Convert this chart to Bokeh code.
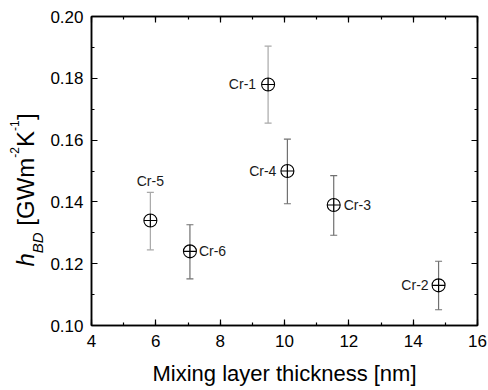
import math
from bokeh.plotting import figure
from bokeh.layouts import row
from bokeh.models import (Range1d, LinearAxis, SingleIntervalTicker, PrintfTickFormatter,
                          CustomJSTickFormatter, Label, ColumnDataSource)
from bokeh.embed import file_html
from bokeh.resources import INLINE

# ---- data ----
names = ["Cr-1", "Cr-2", "Cr-3", "Cr-4", "Cr-5", "Cr-6"]
thickness = [9.49, 14.79, 11.53, 10.09, 5.83, 7.06]
h_bd = [0.178, 0.113, 0.139, 0.150, 0.134, 0.124]
err_upper = [0.1904, 0.1208, 0.1485, 0.1603, 0.1431, 0.1326]
err_lower = [0.1655, 0.1051, 0.1292, 0.1394, 0.1245, 0.1151]

# ---- styling (not data) ----
bar_colors = ["#a8a8a8", "#707070", "#707070", "#707070", "#a8a8a8", "#707070"]
label_style = {
    "Cr-1": dict(align="right", baseline="middle", dx=-12, dy=0),
    "Cr-2": dict(align="right", baseline="middle", dx=-10, dy=0),
    "Cr-3": dict(align="left", baseline="middle", dx=10, dy=0),
    "Cr-4": dict(align="right", baseline="middle", dx=-11, dy=0),
    "Cr-5": dict(align="center", baseline="alphabetic", dx=0, dy=39),
    "Cr-6": dict(align="left", baseline="middle", dx=9, dy=0),
}
FONT = "Liberation Sans"
W, H = 488, 390
TW = 47  # width of the strip holding the rotated y-axis title
BT, BB = 16, 65  # top / bottom borders shared by both panels

p = figure(width=W - TW, height=H, output_backend="svg", toolbar_location=None,
           x_range=Range1d(4, 16), y_range=Range1d(0.10, 0.20),
           min_border_left=91 - TW, min_border_right=11, min_border_top=BT, min_border_bottom=BB,
           background_fill_color="white", border_fill_color="white")
p.grid.visible = False
p.outline_line_color = "black"
p.outline_line_width = 1.5

def style_axis(ax, ticker):
    ax.ticker = ticker
    ax.axis_line_color = "black"
    ax.axis_line_width = 1.5
    ax.major_tick_line_color = "black"
    ax.major_tick_line_width = 1.2
    ax.minor_tick_line_color = "black"
    ax.minor_tick_line_width = 1.2
    ax.major_tick_in = 6
    ax.major_tick_out = 0
    ax.minor_tick_in = 3
    ax.minor_tick_out = 0
    ax.major_label_text_font = FONT
    ax.major_label_text_font_size = "17px"
    ax.major_label_text_color = "black"

bx = p.xaxis[0]
style_axis(bx, SingleIntervalTicker(interval=2, num_minor_ticks=2))
bx.major_label_standoff = 9
bx.axis_label = "Mixing layer thickness [nm]"
bx.axis_label_text_font = FONT
bx.axis_label_text_font_size = "22px"
bx.axis_label_text_font_style = "normal"
bx.axis_label_text_color = "black"
bx.axis_label_standoff = 11

ly = p.yaxis[0]
style_axis(ly, SingleIntervalTicker(interval=0.02, num_minor_ticks=2))
ly.formatter = PrintfTickFormatter(format="%.2f")
ly.major_label_standoff = 8

blank = CustomJSTickFormatter(code="return ''")
top = LinearAxis(formatter=blank, major_label_standoff=0)
style_axis(top, SingleIntervalTicker(interval=2, num_minor_ticks=2))
p.add_layout(top, "above")
right = LinearAxis(formatter=blank, major_label_standoff=0)
style_axis(right, SingleIntervalTicker(interval=0.02, num_minor_ticks=2))
p.add_layout(right, "right")

src = ColumnDataSource(dict(x=thickness, y=h_bd, lo=err_lower, hi=err_upper, c=bar_colors))
p.segment(x0="x", y0="lo", x1="x", y1="hi", line_color="c", line_width=1.2, source=src)
p.scatter(x="x", y="hi", marker="dash", size=7, line_color="c", line_width=1.2, source=src)
p.scatter(x="x", y="lo", marker="dash", size=7, line_color="c", line_width=1.2, source=src)
p.scatter(x="x", y="y", marker="circle_cross", size=13, line_color="black",
          fill_color=None, line_width=1.1, source=src)

for n, xv, yv in zip(names, thickness, h_bd):
    s = label_style[n]
    p.add_layout(Label(x=xv, y=yv, text=n, x_offset=s["dx"], y_offset=s["dy"],
                       text_align=s["align"], text_baseline=s["baseline"],
                       text_font=FONT, text_font_size="14px", text_color="#1a1a1a"))

# ---- strip with the rotated y-axis title; its frame spans canvas rows BT..H-BB ----
t = figure(width=TW, height=H, output_backend="svg", toolbar_location=None,
           x_range=Range1d(0, TW), y_range=Range1d(BB, H - BT),
           x_axis_location=None, y_axis_location=None,
           min_border_left=0, min_border_right=0, min_border_top=BT, min_border_bottom=BB,
           background_fill_color="white", border_fill_color="white")
t.grid.visible = False
t.outline_line_color = None

# (text, baseline x from left, start y from top, font px, style)
pieces = [
    ("h", 35, 266, 24, "italic"),
    ("BD", 43, 252.7, 15, "italic"),
    ("[GWm", 35, 225.2, 24, "normal"),
    ("-2", 19, 157.2, 12, "normal"),
    ("K", 35, 146.5, 24, "normal"),
    ("-1", 19, 130.5, 12, "normal"),
    ("]", 35, 119.5, 24, "normal"),
]
for txt, bx_, cy, fs, st in pieces:
    t.add_layout(Label(x=bx_ - 0.42 * fs, y=H - cy, text=txt, angle=math.pi / 2,
                       text_align="left", text_baseline="alphabetic",
                       text_font=FONT, text_font_size=f"{fs}px", text_font_style=st,
                       text_color="black"))

open("out.html", "w").write(file_html(row(t, p), INLINE))
